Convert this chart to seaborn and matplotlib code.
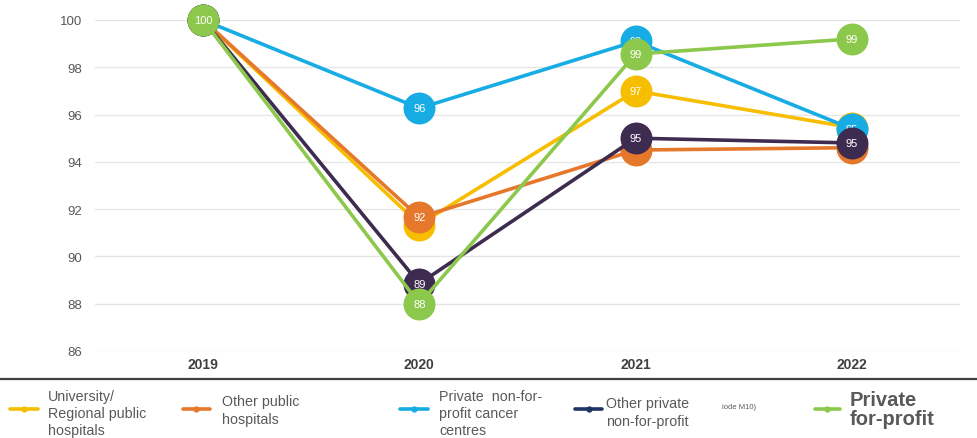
import matplotlib
matplotlib.use("Agg")
import matplotlib.pyplot as plt
from matplotlib.lines import Line2D
import seaborn as sns
import pandas as pd

years = ["2019", "2020", "2021", "2022"]
series_names = [
    "University/\nRegional public\nhospitals",
    "Other public\nhospitals",
    "Private  non-for-\nprofit cancer\ncentres",
    "Other private\nnon-for-profit",
    "Private\nfor-profit",
]
university = [100, 91.35, 97.0, 95.45]
other_public = [100, 91.65, 94.5, 94.6]
cancer_centres = [100, 96.27, 99.1, 95.4]
other_private = [100, 88.85, 95.0, 94.8]
for_profit = [100, 88.0, 98.56, 99.2]
all_values = [university, other_public, cancer_centres, other_private, for_profit]
colors = ["#F7BE00", "#E5782B", "#17ACE3", "#3E2C50", "#8CC84B"]
legend_colors = ["#F7BE00", "#E5782B", "#17ACE3", "#1F3462", "#8CC84B"]
y_ticks = [86, 88, 90, 92, 94, 96, 98, 100]

rows = []
for name, vals in zip(series_names, all_values):
    for yr, v in zip(years, vals):
        rows.append({"year": yr, "value": v, "series": name})
df = pd.DataFrame(rows)

sns.set_theme(style="white")
plt.rcParams["font.family"] = ["Liberation Sans", "DejaVu Sans"]

fig = plt.figure(figsize=(9.78, 4.39), dpi=100)
ax = fig.add_axes([95 / 978, 1 - 352 / 439, (960 - 95) / 978, (352 - 21) / 439])

sns.lineplot(data=df, x="year", y="value", hue="series", hue_order=series_names,
             palette=colors, marker="o", markersize=23, linewidth=2.6,
             markeredgewidth=0, ax=ax, legend=False, sort=False)

for i, line in enumerate(ax.lines):
    line.set_zorder(3 + 2 * i)
    line.set_clip_on(False)

for i, vals in enumerate(all_values):
    for j, v in enumerate(vals):
        ax.text(j, v, f"{round(v)}", ha="center", va="center", color="white",
                fontsize=8, zorder=4 + 2 * i)

ax.set_xlim(-0.5, 3.5)
ax.set_ylim(86, 100)
ax.set_yticks(y_ticks)
ax.grid(axis="y", color="#E6E6E6", linewidth=1)
ax.grid(axis="x", visible=False)
for s in ax.spines.values():
    s.set_visible(False)
ax.set_xlabel("")
ax.set_ylabel("")
ax.tick_params(axis="y", labelsize=9.5, colors="#595959", pad=9, length=0)
ax.tick_params(axis="x", labelsize=10, colors="#404040", pad=4, length=0)
for lab in ax.get_xticklabels():
    lab.set_fontweight("bold")

# bottom separator line
fig.add_artist(Line2D([0, 1], [1 - 380 / 439, 1 - 380 / 439], color="#404040",
                      linewidth=1.6, transform=fig.transFigure))

# legend
W, H = 978, 439
handle_x = [(10, 38), (183, 210), (400, 428), (575, 602), (815, 840)]
text_x = [48, 222, 439, 606, 850]
text_y = [414, 411, 414, 413, 410]
for k, name in enumerate(series_names):
    x0, x1 = handle_x[k]
    yy = 1 - 410 / H
    fig.add_artist(Line2D([x0 / W, x1 / W], [yy, yy], color=legend_colors[k],
                          linewidth=2.6, transform=fig.transFigure))
    fig.add_artist(Line2D([(x0 + x1) / 2 / W], [yy], color=legend_colors[k],
                          marker="o", markersize=3.5, transform=fig.transFigure))
    if k == 4:
        fig.text(text_x[k] / W, 1 - text_y[k] / H, name, ha="left", va="center",
                 fontsize=14.5, fontweight="bold", color="#595959", linespacing=1.05)
    else:
        fig.text(text_x[k] / W, 1 - text_y[k] / H, name, ha="left", va="center",
                 fontsize=10.3, color="#595959", linespacing=1.3)
fig.text(722 / W, 1 - 408 / H, "iode M10)", ha="left", va="center",
         fontsize=5.5, color="#595959")

fig.savefig("out.png", dpi=100)
